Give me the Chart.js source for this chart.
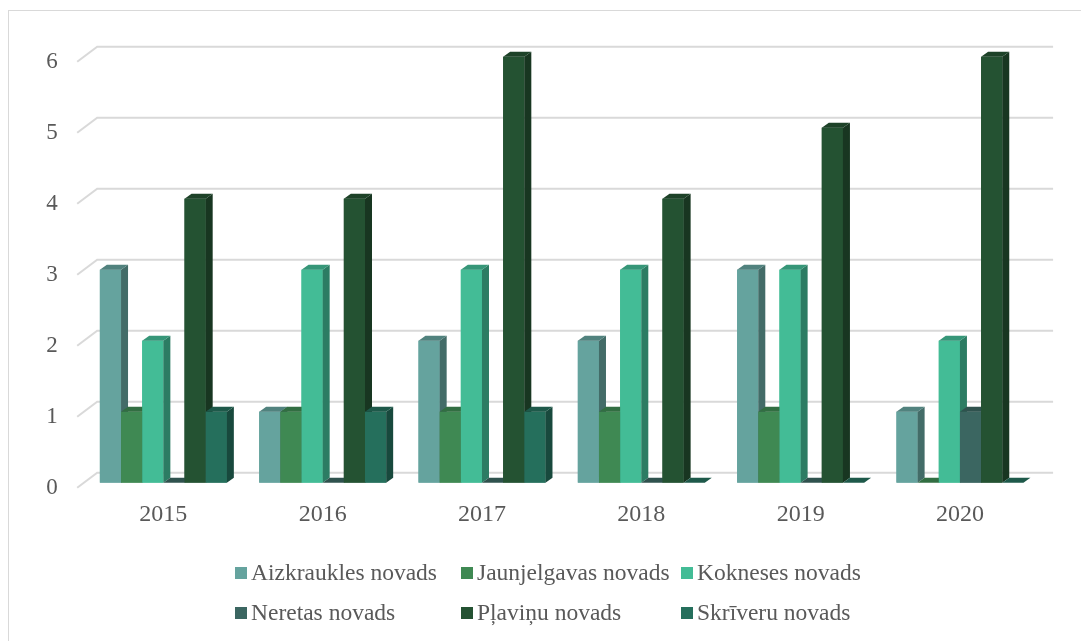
<!DOCTYPE html>
<html>
<head>
<meta charset="utf-8">
<script src="https://cdn.jsdelivr.net/npm/chart.js@4/dist/chart.umd.min.js"></script>
<style>
  html, body { margin: 0; padding: 0; background: #ffffff; }
  #wrap { position: relative; width: 1081px; height: 641px; }
  canvas { display: block; }
</style>
</head>
<body>
<div id="wrap"><canvas id="c" width="1081" height="641"></canvas></div>
<script>
// Categories (years) and values per municipality
const categories = ['2015', '2016', '2017', '2018', '2019', '2020'];
const aizkraukles = [3, 1, 2, 2, 3, 1];
const jaunjelgavas = [1, 1, 1, 1, 1, 0];
const kokneses = [2, 3, 3, 3, 3, 2];
const neretas = [0, 0, 0, 0, 0, 1];
const plavinu = [4, 4, 6, 4, 5, 6];
const skriveru = [1, 1, 1, 0, 0, 0];
const yTickValues = [0, 1, 2, 3, 4, 5, 6];

const seriesNames = ['Aizkraukles novads', 'Jaunjelgavas novads', 'Kokneses novads',
                     'Neretas novads', 'Pļaviņu novads', 'Skrīveru novads'];
const seriesValues = [aizkraukles, jaunjelgavas, kokneses, neretas, plavinu, skriveru];
const seriesColors = ['#65A39E', '#3F8953', '#43BC96', '#3B6661', '#245232', '#256F5C'];

const FONT = '"Liberation Serif", "Times New Roman", serif';
const TEXT = '#595959';
const GRID = '#D9D9D9';

// depth offsets for the pseudo-3D look
const BAR_DX = 7, BAR_DY = -5;          // column depth
const BACK_DX = 13.5, BACK_DY = -10;    // back wall relative to column plane
const FRONT_DX = -6.5, FRONT_DY = 5;    // floor front edge relative to column plane

function shade(hex, f) {
  const n = parseInt(hex.slice(1), 16);
  const r = Math.round(((n >> 16) & 255) * f);
  const g = Math.round(((n >> 8) & 255) * f);
  const b = Math.round((n & 255) * f);
  return `rgb(${r},${g},${b})`;
}

// outer frame, back wall gridlines and the diagonal edges on the left
const wallPlugin = {
  id: 'wall',
  beforeDraw(chart) {
    const ctx = chart.ctx;
    ctx.save();
    ctx.fillStyle = '#ffffff';
    ctx.fillRect(0, 0, chart.width, chart.height);
    ctx.strokeStyle = GRID;
    ctx.lineWidth = 1;
    ctx.strokeRect(8.5, 10.5, chart.width + 20, chart.height + 20);
    ctx.restore();
  },
  beforeDatasetsDraw(chart) {
    const ctx = chart.ctx;
    const y = chart.scales.y;
    const area = chart.chartArea;
    ctx.save();
    ctx.strokeStyle = GRID;
    ctx.lineWidth = 2;
    y.ticks.forEach(t => {
      const py = y.getPixelForValue(t.value);
      ctx.beginPath();
      ctx.moveTo(area.left + FRONT_DX, py + FRONT_DY);
      ctx.lineTo(area.left + BACK_DX, py + BACK_DY);
      ctx.lineTo(area.right + BACK_DX, py + BACK_DY);
      ctx.stroke();
    });
    ctx.restore();
  }
};

// columns with side and top faces, drawn left to right within each group
const columnPlugin = {
  id: 'columns3d',
  afterDatasetsDraw(chart) {
    const ctx = chart.ctx;
    ctx.save();
    chart.data.datasets.forEach((ds, di) => {
      const meta = chart.getDatasetMeta(di);
      const base = ds.backgroundColor;
      meta.data.forEach(bar => {
        const p = bar.getProps(['x', 'y', 'base', 'width'], true);
        const l = p.x - p.width / 2, r = p.x + p.width / 2;
        const top = Math.min(p.y, p.base), bot = p.base;
        // front
        ctx.fillStyle = base;
        ctx.fillRect(l, top, r - l, bot - top);
        // right side
        ctx.fillStyle = shade(base, 0.66);
        ctx.beginPath();
        ctx.moveTo(r, top);
        ctx.lineTo(r + BAR_DX, top + BAR_DY);
        ctx.lineTo(r + BAR_DX, bot + BAR_DY);
        ctx.lineTo(r, bot);
        ctx.closePath();
        ctx.fill();
        // top
        ctx.fillStyle = shade(base, 0.8);
        ctx.beginPath();
        ctx.moveTo(l, top);
        ctx.lineTo(l + BAR_DX, top + BAR_DY);
        ctx.lineTo(r + BAR_DX, top + BAR_DY);
        ctx.lineTo(r, top);
        ctx.closePath();
        ctx.fill();
      });
    });
    ctx.restore();
  }
};

// legend laid out in three columns, two rows
const legendPlugin = {
  id: 'gridLegend',
  afterDraw(chart) {
    const ctx = chart.ctx;
    const cols = [235, 461, 681];
    const rows = [573, 613];
    ctx.save();
    ctx.font = '23.5px ' + FONT;
    ctx.textBaseline = 'middle';
    ctx.textAlign = 'left';
    chart.data.datasets.forEach((ds, i) => {
      const x = cols[i % 3], yc = rows[Math.floor(i / 3)];
      ctx.fillStyle = ds.backgroundColor;
      ctx.fillRect(x, yc - 6, 12, 12);
      ctx.fillStyle = TEXT;
      ctx.fillText(ds.label, x + 16, yc + 1);
    });
    ctx.restore();
  }
};

new Chart(document.getElementById('c'), {
  type: 'bar',
  data: {
    labels: categories,
    datasets: seriesNames.map((name, i) => ({
      label: name,
      data: seriesValues[i],
      backgroundColor: seriesColors[i],
      borderWidth: 0,
      categoryPercentage: 0.797,
      barPercentage: 1.0
    }))
  },
  options: {
    responsive: false,
    animation: false,
    layout: { padding: { left: 43.7, right: 41.4, top: 56.7, bottom: 98.3 } },
    plugins: {
      legend: { display: false },
      tooltip: { enabled: false }
    },
    scales: {
      x: {
        grid: { display: false, drawTicks: false },
        border: { display: false },
        ticks: { color: TEXT, font: { family: FONT, size: 24 }, padding: 18, maxRotation: 0 },
        afterFit(s) { s.height = 60; }
      },
      y: {
        min: 0,
        max: 6,
        grid: { display: false, drawTicks: false },
        border: { display: false },
        afterBuildTicks(s) { s.ticks = yTickValues.map(v => ({ value: v })); },
        ticks: { color: TEXT, font: { family: FONT, size: 23 }, padding: 26, labelOffset: 5 },
        afterFit(s) { s.width = 40; }
      }
    }
  },
  plugins: [wallPlugin, columnPlugin, legendPlugin]
});
</script>
</body>
</html>
